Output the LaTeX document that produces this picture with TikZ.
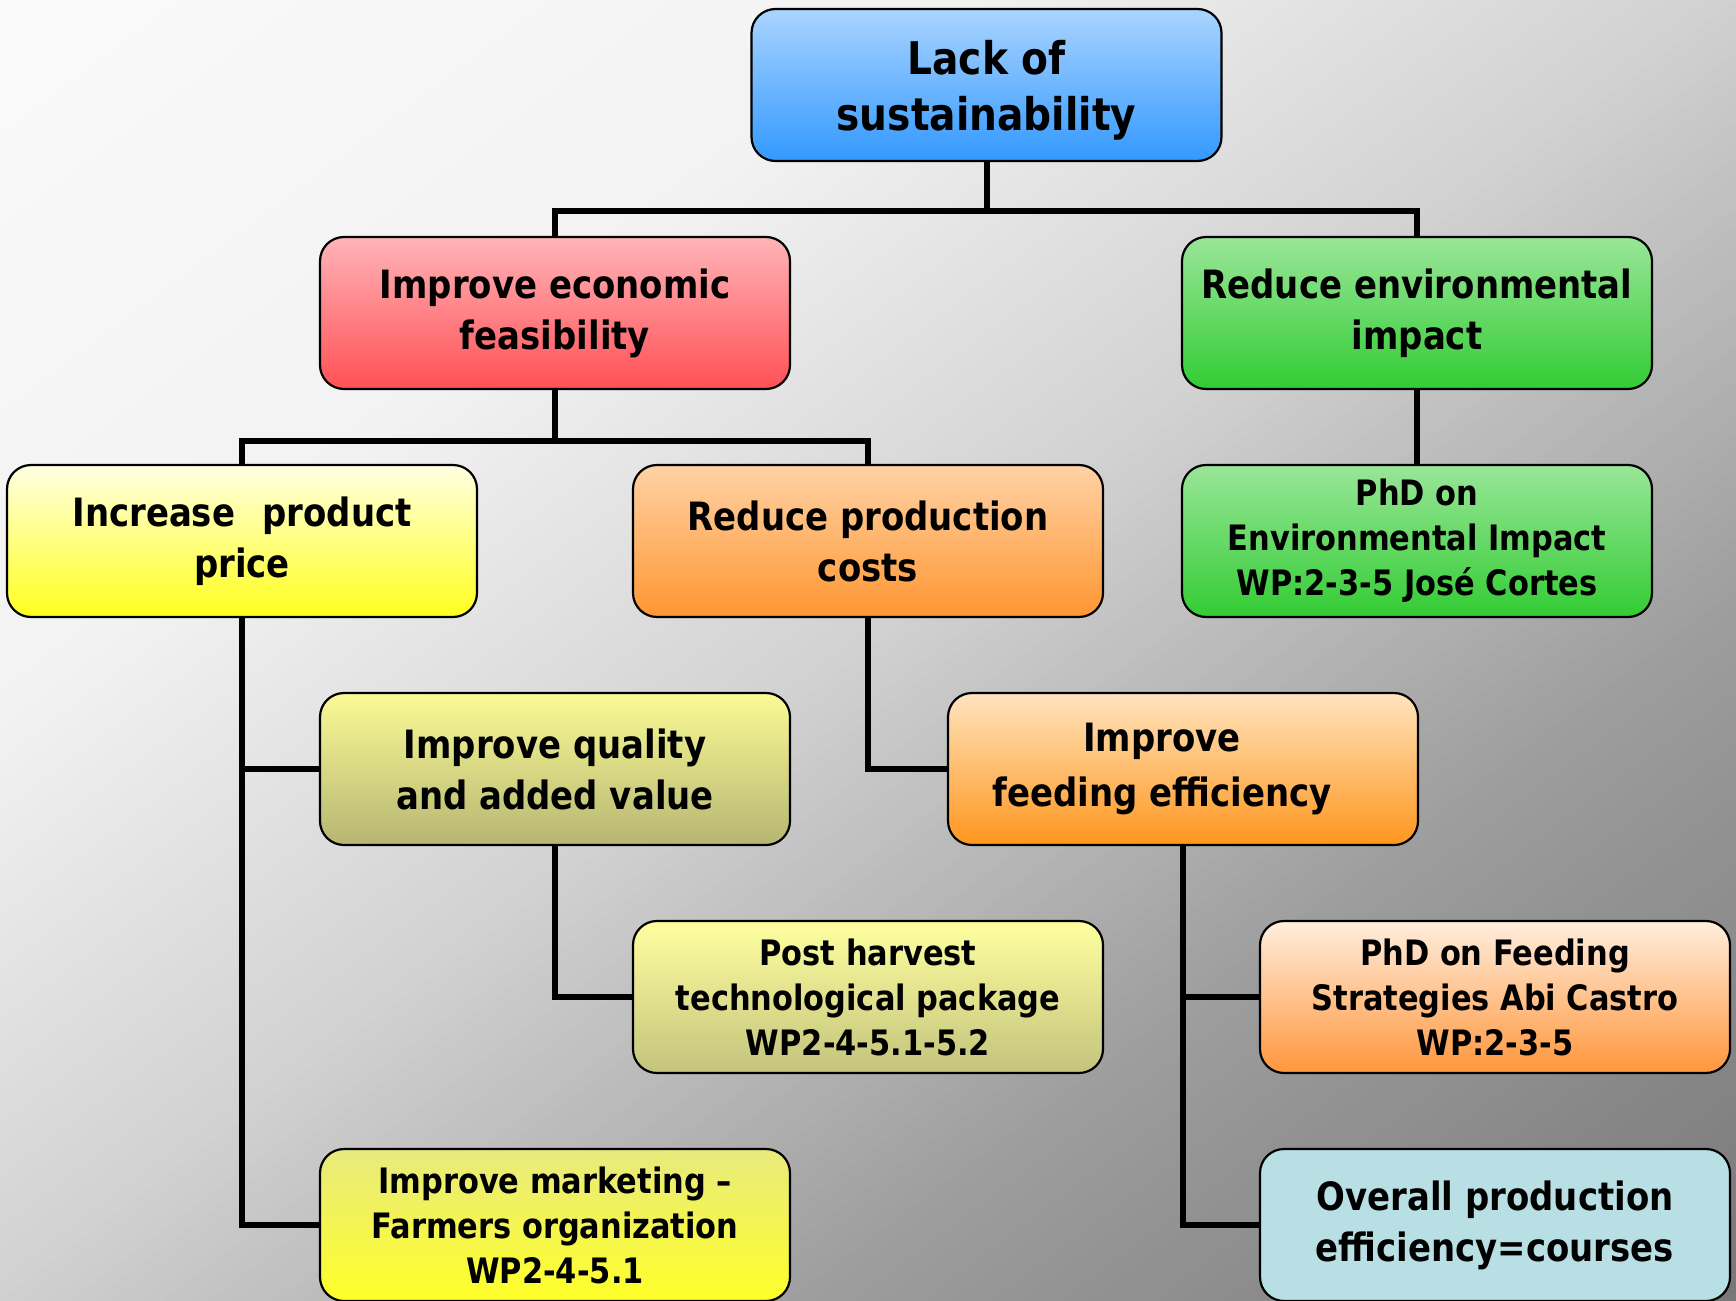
\documentclass[tikz,border=0pt]{standalone}
\usepackage{fontspec}
\setmainfont{DejaVu Sans}[FakeStretch=0.87]
\pgfdeclarelayer{bg}
\pgfdeclarelayer{lines}
\pgfsetlayers{bg,lines,main}
\definecolor{blueT}{RGB}{170,212,255}\definecolor{blueB}{RGB}{51,153,255}
\definecolor{redT}{RGB}{255,180,184}\definecolor{redB}{RGB}{255,80,85}
\definecolor{greenT}{RGB}{153,230,153}\definecolor{greenB}{RGB}{51,204,51}
\definecolor{ylwT}{RGB}{255,255,226}\definecolor{ylwB}{RGB}{255,255,30}
\definecolor{orgT}{RGB}{255,210,165}\definecolor{orgB}{RGB}{255,150,50}
\definecolor{olvT}{RGB}{250,250,150}\definecolor{olvB}{RGB}{182,182,115}
\definecolor{postT}{RGB}{255,255,160}\definecolor{postB}{RGB}{195,195,125}
\definecolor{feedT}{RGB}{255,228,190}\definecolor{feedB}{RGB}{255,150,30}
\definecolor{phdfT}{RGB}{255,238,222}\definecolor{phdfB}{RGB}{255,150,60}
\definecolor{mktT}{RGB}{232,234,125}\definecolor{mktB}{RGB}{255,255,40}
\definecolor{ovrC}{RGB}{184,224,228}
\newcommand\fsTop{\fontsize{22.5}{28}\selectfont\bfseries}
\newcommand\fsTitle{\fontsize{19.5}{25.5}\selectfont\bfseries}
\newcommand\fsSmall{\fontsize{17.5}{22.5}\selectfont\bfseries}
\tikzset{
  box/.style={draw=black, line width=1.1pt, rounded corners=12pt,
    minimum width=235pt, minimum height=76pt, align=center, inner sep=2pt},
  conn/.style={draw=black, line width=3pt},
}
\begin{document}
\begin{tikzpicture}[x=0.5pt,y=-0.5pt]
\useasboundingbox (0,0) rectangle (1736,1301);
\begin{pgfonlayer}{bg}
\begin{scope}
\clip (0,0) rectangle (1736,1301);
\foreach \i in {0,...,149}{
  \pgfmathsetmacro\sm{(\i+0.5)/150}
  \pgfmathsetmacro\ta{2*\i/150}
  \pgfmathsetmacro\tb{2*(\i+1.5)/150}
  \pgfmathsetmacro\gv{(250 - 8*min(\sm,0.28)/0.28 - 34*max(0,min(\sm,0.5)-0.28)/0.22 - 52*max(0,min(\sm,0.74)-0.5)/0.24 - 36*max(0,\sm-0.74)/0.26)/255}
  \definecolor{stripc}{gray}{\gv}
  \fill[stripc] ({(\ta+2)*1736},-2602) -- ({(\ta-2)*1736},2602) -- ({(\tb-2)*1736},2602) -- ({(\tb+2)*1736},-2602) -- cycle;
}
\end{scope}
\end{pgfonlayer}

\node[box, top color=blueT, bottom color=blueB, font=\fsTop] (top) at (986.5,85) {\rule{0pt}{22pt}Lack of\\sustainability};
\node[box, top color=redT, bottom color=redB, font=\fsTitle] (econ) at (555,313) {Improve economic\\feasibility};
\node[box, top color=greenT, bottom color=greenB, font=\fsTitle] (env) at (1417,313) {Reduce environmental\\impact};
\node[box, top color=ylwT, bottom color=ylwB, font=\fsTitle] (incr) at (242,541) {Increase\hspace{0.7em}product\\price};
\node[box, top color=orgT, bottom color=orgB, font=\fsTitle] (red) at (868,541) {Reduce production\\costs};
\node[box, top color=greenT, bottom color=greenB, font=\fsSmall] (phdenv) at (1417,541) {PhD on\\Environmental Impact\\WP:2-3-5 José Cortes};
\node[box, top color=olvT, bottom color=olvB, font=\fsTitle] (qual) at (555,769) {Improve quality\\and added value};
\node[box, top color=feedT, bottom color=feedB, font=\fsTitle] (feed) at (1183,769) {Improve\hspace*{21pt}\\[2pt]feeding efficiency\hspace*{21pt}};
\node[box, top color=postT, bottom color=postB, font=\fsSmall] (post) at (868,997) {Post harvest\\technological package\\WP2-4-5.1-5.2};
\node[box, top color=phdfT, bottom color=phdfB, font=\fsSmall] (phdf) at (1495,997) {PhD on Feeding\\Strategies Abi Castro\\WP:2-3-5};
\node[box, top color=mktT, bottom color=mktB, font=\fsSmall] (mkt) at (555,1225) {Improve marketing –\\Farmers organization\\WP2-4-5.1};
\node[box, fill=ovrC, font=\fsTitle] (ovr) at (1495,1225) {Overall production\\efficiency=courses};

\coordinate (j1) at (986.5,211);
\coordinate (j2) at (555,441);
\begin{pgfonlayer}{lines}
\draw[conn] (top.south) -- (j1);
\draw[conn] (econ.north) |- (j1) -| (env.north);
\draw[conn] (econ.south) -- (j2);
\draw[conn] (incr.north) |- (j2) -| (red.north);
\draw[conn] (env.south) -- (phdenv.north);
\draw[conn] (incr.south) |- (mkt.west);
\draw[conn] (incr.south |- qual.west) -- (qual.west);
\draw[conn] (red.south) |- (feed.west);
\draw[conn] (qual.south) |- (post.west);
\draw[conn] (feed.south) |- (ovr.west);
\draw[conn] (feed.south |- phdf.west) -- (phdf.west);
\end{pgfonlayer}
\end{tikzpicture}
\end{document}
